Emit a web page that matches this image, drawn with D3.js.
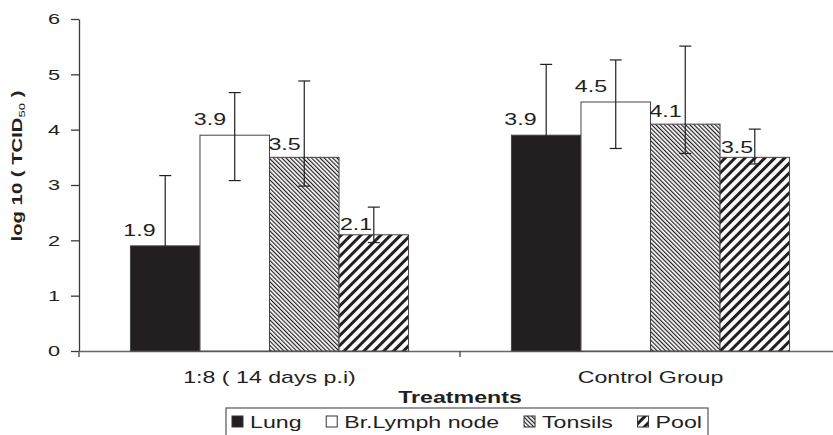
<!DOCTYPE html>
<html><head><meta charset="utf-8">
<script src="https://cdn.jsdelivr.net/npm/d3@7"></script>
<style>
html,body{margin:0;padding:0;background:#fff;}
svg{display:block;font-family:"Liberation Sans",Arial,sans-serif;}
</style></head><body>
<svg id="chart" width="833" height="435"></svg>
<script>
const categories = ["1:8 ( 14 days p.i)", "Control Group"];
const series = ["Lung", "Br.Lymph node", "Tonsils", "Pool"];
const means = [[1.9, 3.9, 3.5, 2.1], [3.9, 4.5, 4.1, 3.5]];
const errHigh = [[3.17, 4.67, 4.88, 2.6], [5.18, 5.26, 5.51, 4.01]];
const errLow = [[0.63, 3.08, 2.98, 1.96], [2.62, 3.66, 3.57, 3.38]];
const yTicks = [0, 1, 2, 3, 4, 5, 6];

const W = 833, H = 435;
const SX = 1.45; // the source text is stretched sideways
const ink = "#231f20";
const fills = ["#231f20", "#fff", "url(#hatchFine)", "url(#hatchWide)"];
const labelDx = [9, 10, 15, 17], labelDy = [10, 10, 7, 4.5];

const svg = d3.select("#chart").attr("viewBox", `0 0 ${W} ${H}`);
const defs = svg.append("defs");

function hatch(id, size, angle, lw) {
  const p = defs.append("pattern").attr("id", id)
    .attr("patternUnits", "userSpaceOnUse")
    .attr("width", size).attr("height", size)
    .attr("patternTransform", `rotate(${angle})`);
  p.append("rect").attr("width", size).attr("height", size).attr("fill", "#fff");
  p.append("line").attr("x1", lw / 2).attr("x2", lw / 2).attr("y1", 0).attr("y2", size)
    .attr("stroke", ink).attr("stroke-width", lw);
}
hatch("hatchFine", 3, -45, 1.2);
hatch("hatchWide", 7, 45, 3);

const x0 = d3.scaleBand().domain(categories).range([79, 841]).padding(0);
const x1 = d3.scaleBand().domain(series).range([0, x0.bandwidth()]).paddingOuter(0.74);
const y = d3.scaleLinear().domain([0, 6]).range([351, 19]);

const rows = categories.flatMap((c, i) => series.map((s, j) => ({
  cat: c, ser: s, j, v: means[i][j], hi: errHigh[i][j], lo: errLow[i][j]
})));

// axes
const gy = svg.append("g").attr("transform", "translate(79,0)")
  .call(d3.axisLeft(y).tickValues(yTicks).tickFormat(d3.format("d")).tickSize(8).tickSizeOuter(0));
gy.selectAll("path,line").attr("stroke", "#3a3a3a").attr("stroke-width", 1.3);
gy.selectAll("text").attr("x", 0).attr("font-size", 15).attr("fill", ink)
  .attr("font-family", null)
  .attr("transform", `translate(-19,0) scale(${SX},1)`);

const gx = svg.append("g").attr("transform", "translate(0,351)")
  .call(d3.axisBottom(x0).tickSize(0).tickSizeOuter(0));
gx.select("path").attr("stroke", "#666").attr("stroke-width", 1.5);
gx.selectAll("text").attr("y", 0).attr("dy", 0).attr("font-size", 16).attr("fill", ink)
  .attr("font-family", null)
  .attr("transform", `translate(0,32) scale(${SX},1)`);
gx.selectAll("line.bound")
  .data([...categories.map((c) => x0(c)), x0.range()[1]])
  .join("line").attr("class", "bound")
  .attr("x1", (d) => d).attr("x2", (d) => d).attr("y1", 0).attr("y2", 6)
  .attr("stroke", "#444").attr("stroke-width", 1.3);

// bars
svg.append("g").selectAll("rect").data(rows).join("rect")
  .attr("x", (d) => x0(d.cat) + x1(d.ser))
  .attr("width", x1.bandwidth())
  .attr("y", (d) => y(d.v))
  .attr("height", (d) => y(0) - y(d.v))
  .attr("fill", (d) => fills[d.j])
  .attr("stroke", "#444").attr("stroke-width", 1);

// error bars
const eb = svg.append("g").attr("stroke", ink).attr("stroke-width", 1.2)
  .selectAll("g").data(rows).join("g")
  .attr("transform", (d) => `translate(${x0(d.cat) + x1(d.ser) + x1.bandwidth() / 2},0)`);
eb.append("line").attr("y1", (d) => y(d.lo)).attr("y2", (d) => y(d.hi));
eb.append("line").attr("x1", -6).attr("x2", 6).attr("y1", (d) => y(d.hi)).attr("y2", (d) => y(d.hi));
eb.append("line").attr("x1", -6).attr("x2", 6).attr("y1", (d) => y(d.lo)).attr("y2", (d) => y(d.lo));

// value labels
svg.append("g").selectAll("text").data(rows).join("text")
  .attr("text-anchor", "middle").attr("font-size", 16).attr("fill", ink)
  .attr("transform", (d) => `translate(${x0(d.cat) + x1(d.ser) + labelDx[d.j]},${y(d.v) - labelDy[d.j]}) scale(${SX},1)`)
  .text((d) => d.v.toFixed(1));

// axis titles
const yt = svg.append("text").attr("text-anchor", "middle").attr("fill", ink)
  .attr("font-size", 14).attr("font-weight", "bold")
  .attr("transform", `translate(22,166) rotate(-90) scale(${SX},1)`);
yt.append("tspan").text("log 10 ( TCID");
yt.append("tspan").attr("font-size", 9).attr("font-weight", "normal").attr("dy", 3).text("50");
yt.append("tspan").attr("dy", -3).text(" )");

svg.append("text").attr("text-anchor", "middle").attr("fill", ink)
  .attr("font-size", 16).attr("font-weight", "bold")
  .attr("transform", `translate(${(x0.range()[0] + x0.range()[1]) / 2},403) scale(${SX},1)`)
  .text("Treatments");

// legend
const lg = svg.append("g");
lg.append("rect").attr("x", 226).attr("y", 408).attr("width", 482).attr("height", 40)
  .attr("fill", "#fff").attr("stroke", "#555").attr("stroke-width", 1.2);
const items = lg.selectAll("g.item").data(series).join("g").attr("class", "item");
items.append("rect").attr("width", 11).attr("height", 11).attr("y", 416)
  .attr("fill", (d, j) => fills[j]).attr("stroke", "#333").attr("stroke-width", 1);
const ltxt = items.append("text").attr("font-size", 16).attr("fill", ink).text((d) => d);
const widths = ltxt.nodes().map((n) => n.getComputedTextLength() * SX);
const inner = [232, 702];
const content = d3.sum(widths) + series.length * 18;
const gap = (inner[1] - inner[0] - content) / (series.length - 1);
let cx = inner[0];
items.each(function (d, j) {
  const g = d3.select(this);
  g.select("rect").attr("x", cx);
  g.select("text").attr("transform", `translate(${cx + 18},428) scale(${SX},1)`);
  cx += 18 + widths[j] + gap;
});
</script>
</body></html>
